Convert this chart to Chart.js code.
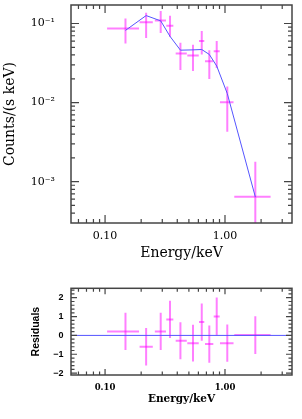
<!DOCTYPE html>
<html>
<head>
<meta charset="utf-8">
<script src="https://cdn.jsdelivr.net/npm/chart.js@4.4.1/dist/chart.umd.min.js"></script>
<style>
  html, body { margin: 0; padding: 0; background: #fff; }
  body { width: 302px; height: 419px; position: relative; overflow: hidden; }
  canvas { position: absolute; left: 0; }
  #spec { top: 0; }
  #resid { top: 270px; }
</style>
</head>
<body>
<canvas id="spec" width="302" height="270"></canvas>
<canvas id="resid" width="302" height="149"></canvas>
<script>
// energy bins (keV): centre and bin edges
const energy   = [0.148, 0.220, 0.291, 0.348, 0.425, 0.541, 0.640, 0.740, 0.853, 1.045, 1.790];
const energyLo = [0.104, 0.194, 0.260, 0.324, 0.388, 0.485, 0.607, 0.681, 0.805, 0.908, 1.195];
const energyHi = [0.192, 0.250, 0.322, 0.371, 0.480, 0.604, 0.672, 0.799, 0.903, 1.178, 2.400];

// counts/(s keV) with error bar ends, and the folded model
const rate   = [0.0866, 0.104, 0.109, 0.0936, 0.0418, 0.0394, 0.0603, 0.0332, 0.0447, 0.0101, 0.000642];
const rateLo = [0.0560, 0.0657, 0.0758, 0.0676, 0.0259, 0.0251, 0.0406, 0.0199, 0.0274, 0.00427, 0.00001];
const rateHi = [0.1155, 0.137, 0.144, 0.125, 0.0569, 0.0537, 0.0803, 0.0460, 0.0602, 0.0160, 0.00178];
const model  = [0.0818, 0.126, 0.108, 0.0688, 0.0460, 0.0464, 0.0469, 0.0406, 0.0290, 0.0130, 0.000642];

// residuals (sigma)
const resid    = [0.21, -0.60, 0.21, 0.85, -0.28, -0.41, 0.71, -0.46, 1.01, -0.41, 0.02];
const residErr = [0.99, 0.99, 0.99, 0.99, 0.98, 0.98, 0.99, 0.99, 1.00, 0.99, 1.00];

// tick labels
const xTickVals = [0.1, 1];
const yTickVals = [0.001, 0.01, 0.1];
const yTickLabels = ['10⁻³', '10⁻²', '10⁻¹'];
const resTickVals = [-2, -1, 0, 1, 2];
const resTickLabels = ['−2', '−1', '0', '1', '2'];

// tick marks (inside the frame)
const xMinor = [0.06, 0.07, 0.08, 0.09, 0.2, 0.3, 0.4, 0.5, 0.6, 0.7, 0.8, 0.9, 2, 3];
const yMinor = [4e-4, 5e-4, 6e-4, 7e-4, 8e-4, 9e-4, 2e-3, 3e-3, 4e-3, 5e-3, 6e-3, 7e-3, 8e-3, 9e-3,
                2e-2, 3e-2, 4e-2, 5e-2, 6e-2, 7e-2, 8e-2, 9e-2];
const resMinor = [-1.8, -1.6, -1.4, -1.2, -0.8, -0.6, -0.4, -0.2, 0.2, 0.4, 0.6, 0.8,
                  1.2, 1.4, 1.6, 1.8, 2.2, 2.4];

const XMIN = 0.052, XMAX = 3.62;
const barColor = 'rgba(255, 0, 255, 0.5)';
const lineColor = '#5555ff';

// error bars as broken line segments
function hBars(yArr) {
  const pts = [];
  energy.forEach((e, i) => {
    pts.push({x: energyLo[i], y: yArr[i]}, {x: energyHi[i], y: yArr[i]}, {x: e, y: NaN});
  });
  return pts;
}
function vBars(lo, hi) {
  const pts = [];
  energy.forEach((e, i) => {
    pts.push({x: e, y: lo[i]}, {x: e, y: hi[i]}, {x: e, y: NaN});
  });
  return pts;
}

function frameTicks(xMaj, xMin, yMaj, yMin, majLen, minLen) {
  return {
    id: 'frameTicks',
    afterDatasetsDraw(chart) {
      const {ctx, chartArea: a, scales: {x, y}} = chart;
      ctx.save();
      ctx.strokeStyle = '#444';
      ctx.lineWidth = 1.5;
      ctx.strokeRect(a.left, a.top, a.right - a.left, a.bottom - a.top);
      ctx.lineWidth = 1.2;
      ctx.beginPath();
      const xt = (vals, len) => vals.forEach(v => {
        const p = x.getPixelForValue(v);
        ctx.moveTo(p, a.bottom); ctx.lineTo(p, a.bottom - len);
        ctx.moveTo(p, a.top); ctx.lineTo(p, a.top + len);
      });
      const yt = (vals, len) => vals.forEach(v => {
        const p = y.getPixelForValue(v);
        ctx.moveTo(a.left, p); ctx.lineTo(a.left + len, p);
        ctx.moveTo(a.right, p); ctx.lineTo(a.right - len, p);
      });
      xt(xMaj, majLen); xt(xMin, minLen);
      yt(yMaj, majLen); yt(yMin, minLen);
      ctx.stroke();
      ctx.restore();
    }
  };
}

const noGrid = { display: false, drawTicks: false };

new Chart(document.getElementById('spec'), {
  type: 'line',
  data: {
    datasets: [
      { data: energy.map((e, i) => ({x: e, y: model[i]})), borderColor: lineColor, borderWidth: 1,
        pointRadius: 0, tension: 0 },
      { data: hBars(rate), borderColor: barColor, borderWidth: 2, pointRadius: 0, spanGaps: false },
      { data: vBars(rateLo, rateHi), borderColor: barColor, borderWidth: 2, pointRadius: 0, spanGaps: false }
    ]
  },
  options: {
    responsive: false,
    animation: false,
    events: [],
    layout: { padding: { left: 0, right: 10, top: 5, bottom: 0 } },
    plugins: { legend: { display: false }, tooltip: { enabled: false } },
    scales: {
      x: {
        type: 'logarithmic', min: XMIN, max: XMAX,
        grid: noGrid, border: { display: false },
        afterBuildTicks: s => { s.ticks = xTickVals.map(v => ({value: v})); },
        afterFit: s => { s.height = 47; s.paddingLeft = 0; s.paddingRight = 0; },
        ticks: { padding: 7, color: '#000', autoSkip: false, maxRotation: 0,
                 font: { family: 'DejaVu Serif', size: 11 },
                 callback: v => Number(v).toFixed(2) },
        title: { display: true, text: 'Energy/keV', color: '#000',
                 font: { family: 'DejaVu Serif', size: 14 }, padding: { top: 0, bottom: 8 } }
      },
      y: {
        type: 'logarithmic', min: 3.22e-4, max: 0.1714,
        grid: noGrid, border: { display: false },
        afterBuildTicks: s => { s.ticks = yTickVals.map(v => ({value: v})); },
        afterFit: s => { s.width = 71; s.paddingTop = 0; s.paddingBottom = 0; },
        ticks: { padding: 16, color: '#000', autoSkip: false,
                 font: { family: 'DejaVu Serif', size: 11 },
                 callback: (v, i) => yTickLabels[i] },
        title: { display: true, text: 'Counts/(s keV)', color: '#000',
                 font: { family: 'DejaVu Serif', size: 14 }, padding: { top: 2, bottom: 0 } }
      }
    }
  },
  plugins: [frameTicks(xTickVals, xMinor, yTickVals, yMinor, 8, 4)]
});

new Chart(document.getElementById('resid'), {
  type: 'line',
  data: {
    datasets: [
      { data: [{x: XMIN, y: 0}, {x: XMAX, y: 0}], borderColor: lineColor, borderWidth: 1, pointRadius: 0 },
      { data: hBars(resid), borderColor: barColor, borderWidth: 2, pointRadius: 0, spanGaps: false },
      { data: vBars(resid.map((r, i) => r - residErr[i]), resid.map((r, i) => r + residErr[i])),
        borderColor: barColor, borderWidth: 2, pointRadius: 0, spanGaps: false }
    ]
  },
  options: {
    responsive: false,
    animation: false,
    events: [],
    layout: { padding: { left: 0, right: 10, top: 18.3, bottom: 0 } },
    plugins: { legend: { display: false }, tooltip: { enabled: false } },
    scales: {
      x: {
        type: 'logarithmic', min: XMIN, max: XMAX,
        grid: noGrid, border: { display: false },
        afterBuildTicks: s => { s.ticks = xTickVals.map(v => ({value: v})); },
        afterFit: s => { s.height = 44; s.paddingLeft = 0; s.paddingRight = 0; },
        ticks: { padding: 8, color: '#000', autoSkip: false, maxRotation: 0,
                 font: { family: 'DejaVu Serif', size: 8.5, weight: 'bold' },
                 callback: v => Number(v).toFixed(2) },
        title: { display: true, text: 'Energy/keV', color: '#000',
                 font: { family: 'DejaVu Serif', size: 10.5, weight: 'bold' }, padding: { top: 0, bottom: 13 } }
      },
      y: {
        type: 'linear', min: -2.1, max: 2.5,
        grid: noGrid, border: { display: false },
        afterBuildTicks: s => { s.ticks = resTickVals.map(v => ({value: v})); },
        afterFit: s => { s.width = 71; s.paddingTop = 0; s.paddingBottom = 0; },
        ticks: { padding: 7.5, color: '#000', autoSkip: false,
                 font: { family: 'Liberation Sans', size: 9, weight: 'bold' },
                 callback: (v, i) => resTickLabels[i] },
        title: { display: true, text: 'Residuals', color: '#000',
                 font: { family: 'Liberation Sans', size: 10.5, weight: 'bold' }, padding: { top: 30, bottom: 0 } }
      }
    }
  },
  plugins: [frameTicks(xTickVals, xMinor, resTickVals, resMinor, 6, 3.5)]
});
</script>
</body>
</html>
